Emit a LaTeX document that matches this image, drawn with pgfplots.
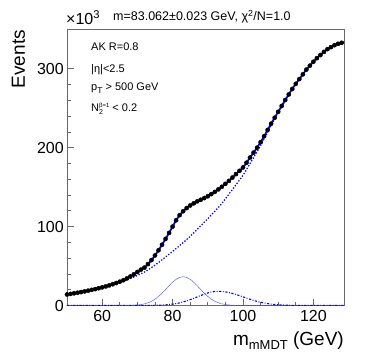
\documentclass[border=0pt]{standalone}
\usepackage{fontspec}
\setmainfont{Liberation Sans}
\usepackage{pgfplots}
\usepackage{pgfplotstable}
\pgfplotsset{compat=1.18}

\definecolor{framegray}{RGB}{105,105,105}

% total (data points and fit), values in units of 10^3
\pgfplotstableread{
x y
50 14.0
51 14.7
52 15.5
53 16.2
54 17.0
55 17.9
56 18.8
57 19.8
58 20.8
59 21.9
60 23.0
61 24.2
62 25.5
63 27.0
64 28.5
65 30.2
66 32.0
67 34.3
68 36.8
69 39.5
70 42.5
71 45.5
72 48.0
73 52.5
74 57.5
75 63.5
76 70.0
77 77.0
78 84.5
79 92.0
80 100.0
81 108.0
82 114.5
83 119.5
84 123.5
85 126.8
86 129.5
87 132.0
88 134.0
89 136.2
90 138.5
91 141.2
92 144.0
93 147.2
94 150.5
95 154.2
96 158.0
97 162.2
98 166.5
99 170.7
100 175.0
101 181.0
102 187.5
103 193.8
104 200.0
105 207.0
106 214.5
107 222.5
108 230.5
109 238.0
110 245.5
111 253.0
112 260.5
113 267.5
114 274.5
115 281.0
116 287.0
117 293.0
118 299.0
119 304.0
120 309.0
121 313.5
122 317.5
123 321.5
124 325.0
125 327.5
126 330.0
127 331.7
128 333.0
129 334.0
}\totaltab

% background component
\pgfplotstableread{
x y
50 14.0
52 15.5
54 17.0
56 18.8
58 20.8
60 23.0
62 25.3
64 28.0
66 31.0
68 34.5
70 38.0
72 42.5
74 48.0
76 54.5
78 61.5
80 68.5
82 76.0
84 83.5
86 92.0
88 101.0
90 110.0
92 119.5
94 129.5
96 141.0
98 153.0
100 165.0
102 180.0
104 195.0
106 211.0
108 228.5
110 244.5
112 260.0
114 274.5
116 287.0
118 299.0
120 309.0
122 317.5
124 325.0
126 330.0
128 333.0
129 334.0
}\bkgtab

% W peak
\pgfplotstableread{
x y
50 0
64 0
66 0.04
67 0.09
68 0.18
69 0.36
70 0.67
71 1.21
72 2.09
73 3.43
74 5.38
75 8.04
76 11.5
77 15.6
78 20.2
79 25.0
80 29.5
81 33.2
82 35.6
83 36.5
84 35.6
85 33.2
86 29.5
87 25.0
88 20.2
89 15.6
90 11.5
91 8.04
92 5.38
93 3.43
94 2.09
95 1.21
96 0.67
97 0.36
98 0.18
99 0.09
100 0.04
102 0
129 0
}\sigtab

% second peak
\pgfplotstableread{
x y
50 0
72 0
74 0.12
76 0.33
78 0.79
79 1.2
80 1.72
81 2.4
82 3.35
83 4.5
84 5.85
85 7.4
86 9.1
87 10.9
88 12.7
89 14.4
90 15.9
91 17.0
92 17.75
93 18.0
94 17.8
95 17.3
96 16.4
97 15.3
98 13.95
99 12.5
100 10.9
101 9.4
102 7.9
103 6.5
104 5.2
105 4.1
106 3.2
107 2.4
108 1.8
109 1.3
110 0.95
112 0.45
114 0.2
116 0.09
120 0.01
122 0
129 0
}\sectab

\begin{document}
\begin{tikzpicture}
\useasboundingbox (-67pt,-53.5pt) rectangle (307pt,305.5pt);
\begin{axis}[
    at={(0,0)}, anchor=south west,
    scale only axis,
    width=277pt, height=276.5pt,
    xmin=50, xmax=128.7,
    ymin=0, ymax=350.5,
    xtick={60,80,100,120},
    ytick={0,100,200,300},
    minor x tick num=3,
    minor y tick num=4,
    tick align=inside,
    xtick pos=lower, ytick pos=left,
    major tick length=7pt,
    minor tick length=3.5pt,
    axis line style={framegray, line width=0.8pt},
    every tick/.style={framegray, line width=0.8pt},
    every minor tick/.style={framegray, line width=0.8pt},
    tick label style={font=\fontsize{16}{16}\selectfont, inner sep=0pt},
    xticklabel style={yshift=-4.5pt},
    yticklabel style={xshift=-3pt},
    /pgf/number format/assume math mode=true,
    scaled ticks=false,
]
\addplot[only marks, mark=*, mark size=2.1pt, black] table {\totaltab};
\addplot[blue, line width=1.8pt, smooth] table {\totaltab};
\addplot[blue, line width=1.8pt, line cap=round, dash pattern=on 0pt off 3pt, smooth] table {\bkgtab};
\addplot[blue!75, line width=0.6pt, dash pattern=on 0.6pt off 0.5pt, smooth] table {\sigtab};
\addplot[blue, line width=1.1pt, dash pattern=on 2.2pt off 1.6pt on 0.8pt off 1.6pt, smooth] table {\sectab};
\end{axis}

\node[anchor=base west, inner sep=0pt, font=\fontsize{12.5}{12.5}\selectfont]
  at (46pt,285pt) {m=83.062±0.023 GeV, χ\textsuperscript{2}/N=1.0};
\node[anchor=base west, inner sep=0pt, font=\fontsize{16}{16}\selectfont]
  at (-1pt,280.5pt) {×10\textsuperscript{3}};
\node[rotate=90, anchor=base east, inner sep=0pt, font=\fontsize{19}{19}\selectfont]
  at (-42pt,275.5pt) {Events};
\node[anchor=base east, inner sep=0pt, font=\fontsize{19}{19}\selectfont]
  at (277pt,-40pt) {m\raisebox{-4pt}{\fontsize{13}{13}\selectfont mMDT} (GeV)};

\begin{scope}[every node/.style={anchor=base west, inner sep=0pt, font=\fontsize{11}{11}\selectfont}]
\node at (24pt,254.5pt) {AK R=0.8};
\node at (24pt,232.8pt) {|η|<2.5};
\node at (24pt,214.8pt) {p\raisebox{-2.5pt}{\fontsize{8.5}{8.5}\selectfont T} > 500 GeV};
\node at (24pt,193.8pt) {N\rlap{\raisebox{-3pt}{\fontsize{7}{7}\selectfont 2}}\raisebox{4pt}{\fontsize{6}{6}\selectfont β=1} < 0.2};
\end{scope}
\end{tikzpicture}
\end{document}
